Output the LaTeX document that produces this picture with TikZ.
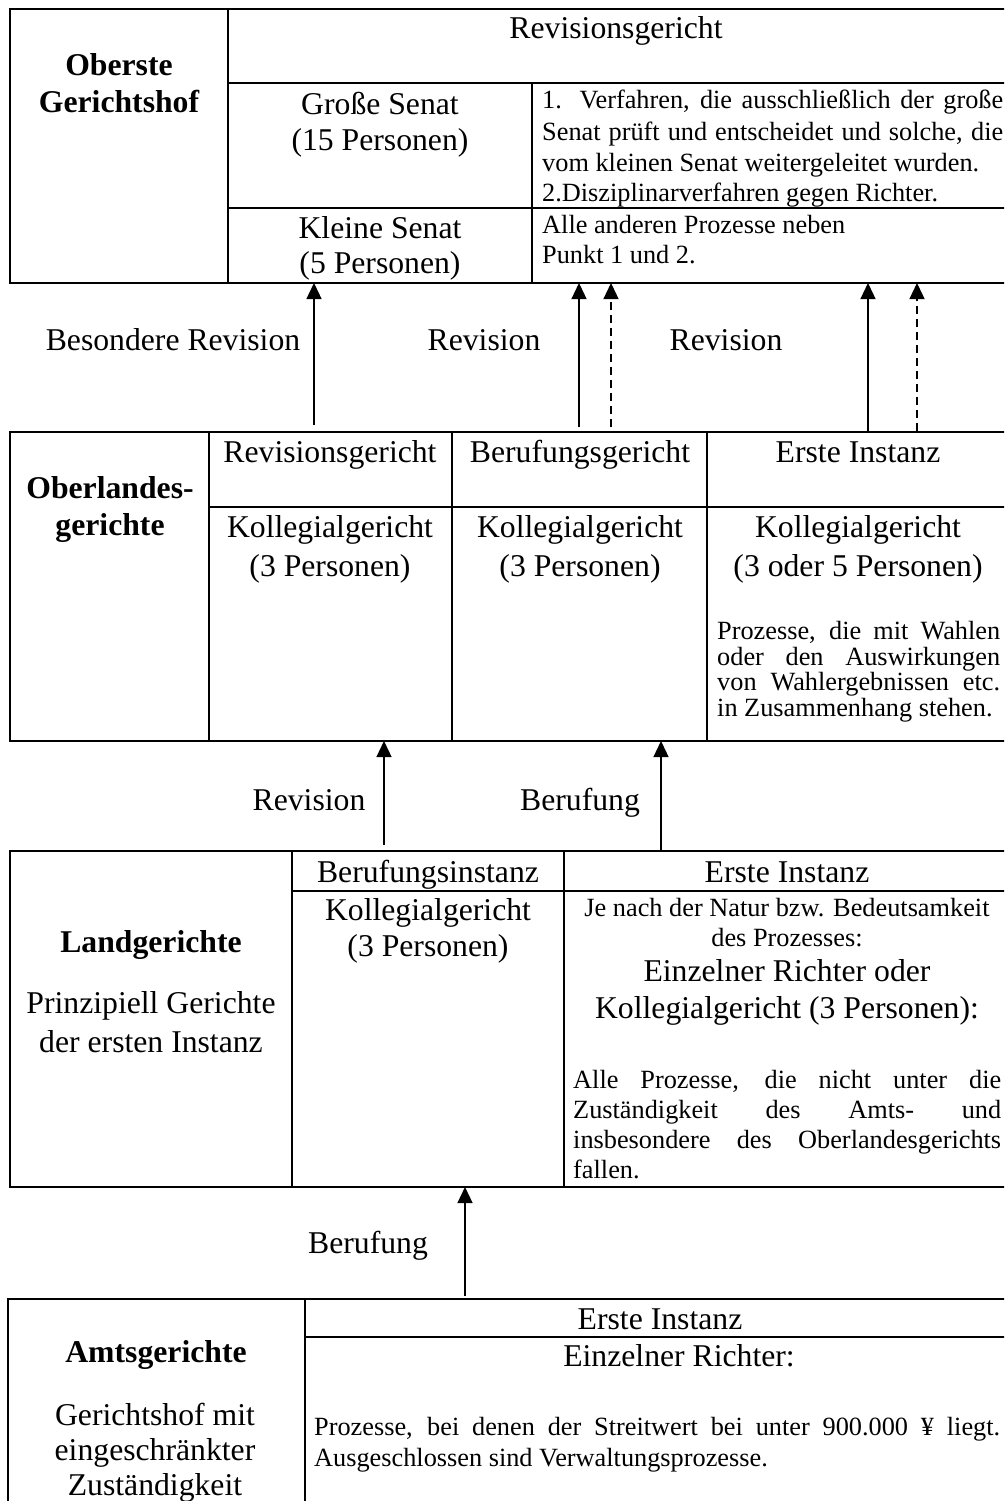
\documentclass[tikz,border=0pt]{standalone}
\usepackage{fontspec}
\setmainfont{Liberation Serif}
\usetikzlibrary{arrows.meta}
\begin{document}
\begin{tikzpicture}[x=1pt,y=-1pt,
  box/.style={draw, line width=1.8pt, anchor=north west, inner sep=0pt, outer sep=0pt},
  grid/.style={line width=1.8pt},
  L/.style={font=\fontsize{31.7}{37}\selectfont, inner sep=0pt, anchor=base},
  LB/.style={font=\fontsize{31.7}{37}\selectfont\bfseries, inner sep=0pt, anchor=base},
  S/.style={font=\fontsize{26.3}{30}\selectfont, inner sep=0pt, anchor=base west},
  SC/.style={font=\fontsize{26.3}{30}\selectfont, inner sep=0pt, anchor=base},
  up/.style={-{Triangle[width=15pt,length=16pt]}, line width=1.3pt},
  dup/.style={up, dash pattern=on 8pt off 5pt}
]
\useasboundingbox (0,0) rectangle (1004,1501);
\fill[white] (0,0) rectangle (1004,1501);
\clip (0,0) rectangle (1004,1501);

% ---------------- Box 1: Oberste Gerichtshof
\node[box, minimum width=1000pt, minimum height=274pt] (B1) at (10,9) {};
\draw[grid] (228,9) -- (228,283);
\draw[grid] (228,83) -- (1012,83);
\draw[grid] (532,83) -- (532,283);
\draw[grid] (228,208) -- (1012,208);

\node[LB] (ob1) at (119,76) {Oberste};
\node[LB] (ob2) at (119,113) {Gerichtshof};
\node[L] (rv1) at (616,39) {Revisionsgericht};
\node[L] (gs1) at (380,115) {Große Senat};
\node[L] (gs2) at (380,150) {(15 Personen)};
\node[L] (ks1) at (380,238) {Kleine Senat};
\node[L] (ks2) at (380,273) {(5 Personen)};
\node[S] (j1a) at (542,109) {\makebox[461pt][s]{1. Verfahren, die ausschließlich der große}};
\node[S] (j1b) at (542,140) {\makebox[461pt][s]{Senat prüft und entscheidet und solche, die}};
\node[S] (j1c) at (542,171) {vom kleinen Senat weitergeleitet wurden.};
\node[S] (j1d) at (542,201.5) {2.Disziplinarverfahren gegen Richter.};
\node[S] (k1a) at (542,233) {Alle anderen Prozesse neben};
\node[S] (k1b) at (542,263) {Punkt 1 und 2.};

% ---------------- arrows 2 -> 1
\coordinate (a1) at (314,425);
\coordinate (a2) at (579,427);
\coordinate (a3) at (611,427);
\coordinate (a4) at (868,431);
\coordinate (a5) at (917,431);
\draw[up] (a1) -- (a1 |- B1.south);
\draw[up] (a2) -- (a2 |- B1.south);
\draw[dup] (a3) -- (a3 |- B1.south);
\draw[up] (a4) -- (a4 |- B1.south);
\draw[dup] (a5) -- (a5 |- B1.south);
\node[L] (l1) at (173,350) {Besondere Revision};
\node[L] (l2) at (484,350) {Revision};
\node[L] (l3) at (726,350) {Revision};

% ---------------- Box 2: Oberlandesgerichte
\node[box, minimum width=1000pt, minimum height=309pt] (B2) at (10,432) {};
\draw[grid] (209,432) -- (209,741);
\draw[grid] (452,432) -- (452,741);
\draw[grid] (707,432) -- (707,741);
\draw[grid] (209,507) -- (1012,507);

\node[LB] (ol1) at (110,498) {Oberlandes-};
\node[LB] (ol2) at (110,535) {gerichte};
\node[L] (h21) at (330,462) {Revisionsgericht};
\node[L] (h22) at (580,462) {Berufungsgericht};
\node[L] (h23) at (858,462) {Erste Instanz};
\node[L] (k21) at (330,537) {Kollegialgericht};
\node[L] (p21) at (330,576) {(3 Personen)};
\node[L] (k22) at (580,537) {Kollegialgericht};
\node[L] (p22) at (580,576) {(3 Personen)};
\node[L] (k23) at (858,537) {Kollegialgericht};
\node[L] (p23) at (858,576) {(3 oder 5 Personen)};
\node[S] (j2a) at (717,639) {\makebox[283pt][s]{Prozesse, die mit Wahlen}};
\node[S] (j2b) at (717,665) {\makebox[283pt][s]{oder den Auswirkungen}};
\node[S] (j2c) at (717,690.5) {\makebox[283pt][s]{von Wahlergebnissen etc.}};
\node[S] (j2d) at (717,716) {in Zusammenhang stehen.};

% ---------------- arrows 3 -> 2
\coordinate (a6) at (384,845);
\coordinate (a7) at (661,850);
\draw[up] (a6) -- (a6 |- B2.south);
\draw[up] (a7) -- (a7 |- B2.south);
\node[L] (l4) at (309,810) {Revision};
\node[L] (l5) at (580,810) {Berufung};

% ---------------- Box 3: Landgerichte
\node[box, minimum width=1000pt, minimum height=336pt] (B3) at (10,851) {};
\draw[grid] (292,851) -- (292,1187);
\draw[grid] (564,851) -- (564,1187);
\draw[grid] (292,891) -- (1012,891);

\node[LB] (lg1) at (151,952) {Landgerichte};
\node[L] (lg2) at (151,1013) {Prinzipiell Gerichte};
\node[L] (lg3) at (151,1052) {der ersten Instanz};
\node[L] (h31) at (428,882) {Berufungsinstanz};
\node[L] (h32) at (787,882) {Erste Instanz};
\node[L] (k31) at (428,920) {Kollegialgericht};
\node[L] (p31) at (428,956) {(3 Personen)};
\node[SC] (n31) at (787,916) {Je nach der Natur bzw. Bedeutsamkeit};
\node[SC] (n32) at (787,946.5) {des Prozesses:};
\node[L] (e31) at (787,981.5) {Einzelner Richter oder};
\node[L] (e32) at (787,1018) {Kollegialgericht (3 Personen):};
\node[S] (j3a) at (573,1088) {\makebox[428pt][s]{Alle Prozesse, die nicht unter die}};
\node[S] (j3b) at (573,1118) {\makebox[428pt][s]{Zuständigkeit des Amts- und}};
\node[S] (j3c) at (573,1148) {\makebox[428pt][s]{insbesondere des Oberlandesgerichts}};
\node[S] (j3d) at (573,1178) {fallen.};

% ---------------- arrow 4 -> 3
\coordinate (a8) at (465,1296);
\draw[up] (a8) -- (a8 |- B3.south);
\node[L] (l6) at (368,1253) {Berufung};

% ---------------- Box 4: Amtsgerichte
\node[box, minimum width=1004pt, minimum height=240pt] (B4) at (8,1299) {};
\draw[grid] (305,1299) -- (305,1540);
\draw[grid] (305,1337) -- (1012,1337);

\node[LB] (ag1) at (156,1362) {Amtsgerichte};
\node[L] (ag2) at (155,1425) {Gerichtshof mit};
\node[L] (ag3) at (155,1460) {eingeschränkter};
\node[L] (ag4) at (155,1495) {Zuständigkeit};
\node[L] (h41) at (660,1329) {Erste Instanz};
\node[L] (e41) at (679,1366.5) {Einzelner Richter:};
\node[S] (j4a) at (314,1435) {\makebox[686pt][s]{Prozesse, bei denen der Streitwert bei unter 900.000 ¥ liegt.}};
\node[S] (j4b) at (314,1466) {Ausgeschlossen sind Verwaltungsprozesse.};
\end{tikzpicture}
\end{document}
